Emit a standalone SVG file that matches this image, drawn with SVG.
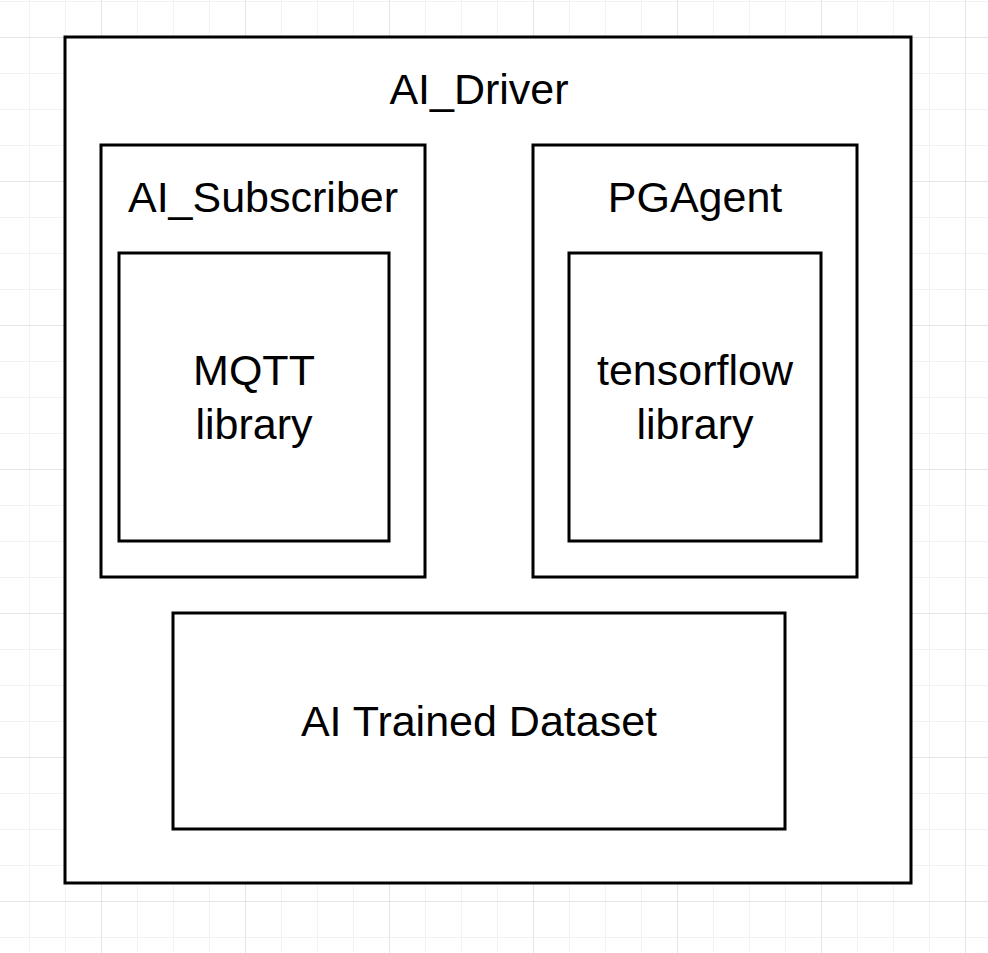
<svg xmlns="http://www.w3.org/2000/svg" width="988" height="953" viewBox="0 0 988 953">
<defs>
<pattern id="minor" x="29" y="1" width="36" height="36" patternUnits="userSpaceOnUse">
<path d="M0.5 0V36M0 0.5H36" fill="none" stroke="#f2f2f2" stroke-width="1"/>
</pattern>
<pattern id="major" x="101" y="37" width="144" height="144" patternUnits="userSpaceOnUse">
<path d="M0.5 0V144M0 0.5H144" fill="none" stroke="#e5e5e5" stroke-width="1"/>
</pattern>
</defs>
<style>
.box{fill:#ffffff;stroke:#000000;stroke-width:3}
.lbl{font-family:"Liberation Sans",Arial,sans-serif;font-size:43px;fill:#000000;text-anchor:middle}
</style>
<rect width="988" height="953" fill="#ffffff"/>
<rect width="988" height="953" fill="url(#minor)"/>
<rect width="988" height="953" fill="url(#major)"/>
<g id="ai_driver">
<rect class="box" x="65" y="37" width="846" height="846"/>
<text class="lbl" x="479" y="104">AI_Driver</text>
</g>
<g id="ai_subscriber">
<rect class="box" x="101" y="145" width="324" height="432"/>
<text class="lbl" x="263" y="212">AI_Subscriber</text>
</g>
<g id="mqtt_library">
<rect class="box" x="119" y="253" width="270" height="288"/>
<text class="lbl" x="254" y="385">MQTT</text>
<text class="lbl" x="254" y="439">library</text>
</g>
<g id="pgagent">
<rect class="box" x="533" y="145" width="324" height="432"/>
<text class="lbl" x="695" y="212">PGAgent</text>
</g>
<g id="tensorflow_library">
<rect class="box" x="569" y="253" width="252" height="288"/>
<text class="lbl" x="695" y="385">tensorflow</text>
<text class="lbl" x="695" y="439">library</text>
</g>
<g id="ai_trained_dataset">
<rect class="box" x="173" y="613" width="612" height="216"/>
<text class="lbl" x="479" y="736">AI Trained Dataset</text>
</g>
<g id="connectors"></g>
</svg>
